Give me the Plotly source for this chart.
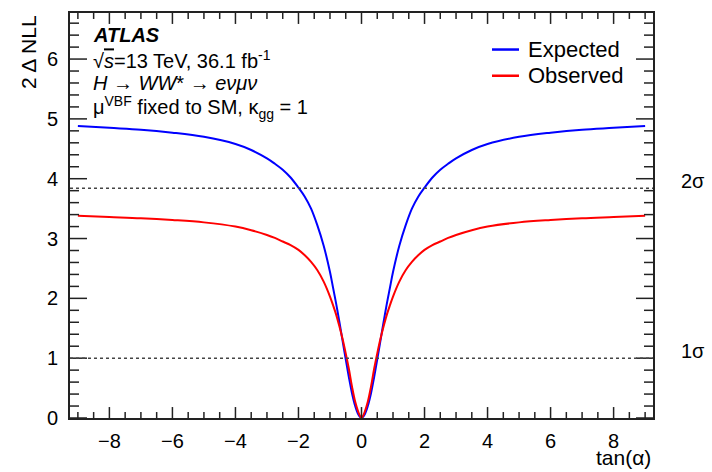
import plotly.graph_objects as go

# ---- data (curves are symmetric in tan(alpha)) ----
tan_pos = [0, 0.1, 0.2, 0.3, 0.4, 0.5, 0.6, 0.7, 0.8, 0.9, 1.0, 1.2, 1.4, 1.6, 1.8, 2.0, 2.25, 2.5,
           2.75, 3.0, 3.5, 4.0, 5.0, 6.0, 7.0, 8.0, 9.0]
expected_pos = [0.0, 0.06, 0.20, 0.41, 0.68, 0.98, 1.29, 1.60, 1.90, 2.17, 2.44, 2.88, 3.22, 3.50, 3.70,
                3.85, 4.02, 4.15, 4.25, 4.34, 4.48, 4.58, 4.70, 4.77, 4.82, 4.85, 4.88]
observed_pos = [0.0, 0.10, 0.27, 0.52, 0.82, 1.08, 1.32, 1.53, 1.72, 1.88, 2.03, 2.28, 2.47, 2.61, 2.72,
                2.81, 2.89, 2.95, 3.01, 3.06, 3.14, 3.20, 3.27, 3.31, 3.34, 3.36, 3.38]
sigma_levels = [1.0, 3.84]
sigma_labels = ["1σ", "2σ"]
legend_names = ["Expected", "Observed"]
line_colors = ["#0000ff", "#ff0000"]
x_range = [-9.25, 9.25]
y_range = [0, 6.77]
x_major = [-8, -6, -4, -2, 0, 2, 4, 6, 8]
y_major = [0, 1, 2, 3, 4, 5, 6]

tan_alpha = [-v for v in reversed(tan_pos[1:])] + tan_pos
expected = list(reversed(expected_pos[1:])) + expected_pos
observed = list(reversed(observed_pos[1:])) + observed_pos

FONT = "Liberation Sans, Arial, Helvetica, sans-serif"
TICKC = "#222222"
W, H = 712, 472
ML, MR, MT, MB = 70, 59, 11, 54
PLOT_W, PLOT_H = W - ML - MR, H - MT - MB
X_PER_PX = (x_range[1] - x_range[0]) / PLOT_W
Y_PER_PX = (y_range[1] - y_range[0]) / PLOT_H

fig = go.Figure()
for name, yv, col in zip(legend_names, [expected, observed], line_colors):
    fig.add_trace(go.Scatter(x=tan_alpha, y=yv, mode="lines", name=name, showlegend=False,
                             line=dict(color=col, width=2, shape="spline", smoothing=1.0)))

for lvl in sigma_levels:
    fig.add_shape(type="line", xref="x", yref="y", x0=x_range[0], x1=x_range[1], y0=lvl, y1=lvl,
                  line=dict(color="#444444", width=1.5, dash="3px,3px"))

# ---- ROOT-style inside ticks on all four sides (one line trace, built from the tick values) ----
x_minor = [m / 2 for m in range(-18, 19) if (m / 2) not in x_major]
y_minor = [m / 5 for m in range(0, 34) if (m / 5) not in y_major]
tx, ty = [], []
for vals, lpx in ((x_major, 11), (x_minor, 6)):
    L = lpx * Y_PER_PX
    for v in vals:
        tx += [v, v, None, v, v, None]
        ty += [y_range[0], y_range[0] + L, None, y_range[1], y_range[1] - L, None]
for vals, lpx in ((y_major, 17), (y_minor, 9)):
    L = lpx * X_PER_PX
    for v in vals:
        tx += [x_range[0], x_range[0] + L, None, x_range[1], x_range[1] - L, None]
        ty += [v, v, None, v, v, None]
fig.add_trace(go.Scatter(x=tx, y=ty, mode="lines", showlegend=False, hoverinfo="skip",
                         line=dict(color=TICKC, width=1.5), connectgaps=False, cliponaxis=False))

# sigma labels to the right of the frame
sig_pos = {"1σ": 0.1665, "2σ": 0.584}
for lab in sigma_labels:
    fig.add_annotation(text=lab, xref="paper", yref="paper", x=1.069, y=sig_pos[lab],
                       showarrow=False, xanchor="center", yanchor="middle",
                       font=dict(family=FONT, size=20, color="black"))

# legend (ROOT style, short line samples)
leg_y = [0.9098, 0.8451]
for name, col, ly in zip(legend_names, line_colors, leg_y):
    fig.add_shape(type="line", xref="paper", yref="paper", x0=0.7238, x1=0.7702, y0=ly, y1=ly,
                  line=dict(color=col, width=2.5))
    fig.add_annotation(text=name, xref="paper", yref="paper", x=0.7822, y=ly, showarrow=False,
                       xanchor="left", yanchor="middle",
                       font=dict(family=FONT, size=22, color="black"))

# ATLAS label block
txt = [
    ("<b><i>ATLAS</i></b>", 0.946),
    ("√<span style=\"text-decoration:overline\"><i>s</i></span>=13 TeV, 36.1 fb<sup>-1</sup>", 0.885),
    ("<i>H</i> → <i>WW</i>* → <i>eνμν</i>", 0.828),
    ("μ<sup>VBF</sup> fixed to SM, κ<sub>gg</sub> = 1", 0.766),
]
for t, yy in txt:
    fig.add_annotation(text=t, xref="paper", yref="paper", x=0.036, y=yy, showarrow=False,
                       xanchor="left", yanchor="middle",
                       font=dict(family=FONT, size=20, color="black"))

# axis titles (ROOT style: at ends of the axes)
fig.add_annotation(text="tan(α)", xref="paper", yref="paper", x=1.0, y=-0.0966, showarrow=False,
                   xanchor="right", yanchor="middle", font=dict(family=FONT, size=21, color="black"))
fig.add_annotation(text="2 Δ NLL", xref="paper", yref="paper", x=-0.072, y=1.0, showarrow=False,
                   textangle=-90, xanchor="center", yanchor="top",
                   font=dict(family=FONT, size=21, color="black"))

common = dict(showgrid=False, zeroline=False, showline=True, linecolor=TICKC, linewidth=2,
              mirror=True, ticks="", tickmode="array",
              tickfont=dict(family=FONT, size=20, color="black"))

fig.update_xaxes(range=x_range, tickvals=x_major, ticklabelstandoff=4, **common)
fig.update_yaxes(range=y_range, tickvals=y_major, ticklabelstandoff=6, **common)

fig.update_layout(
    width=W, height=H,
    margin=dict(l=ML, r=MR, t=MT, b=MB),
    paper_bgcolor="white", plot_bgcolor="white",
    font=dict(family=FONT, color="black"),
    showlegend=False,
)

fig.write_html("out.html")
